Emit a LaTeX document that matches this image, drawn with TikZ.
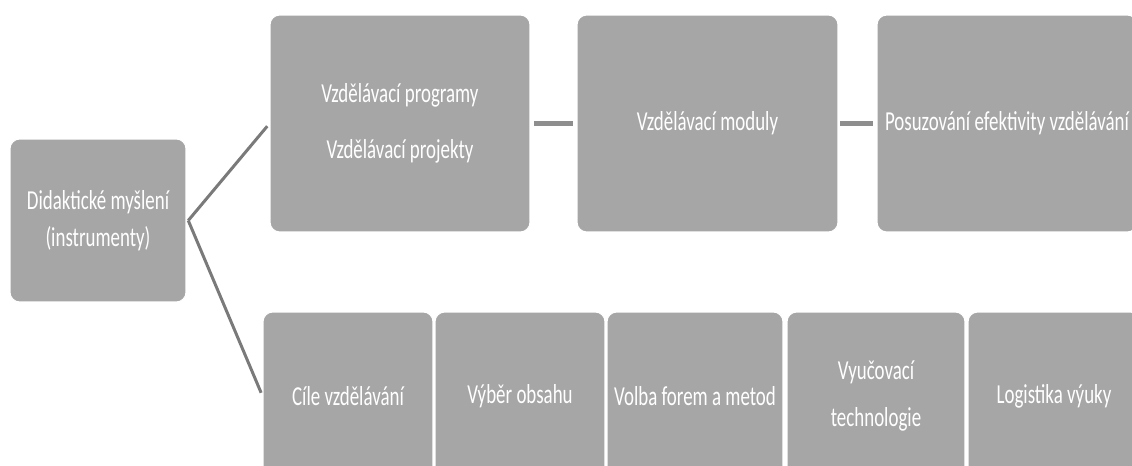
\documentclass[tikz,border=0pt]{standalone}
\usepackage{fontspec}
\setmainfont{Carlito}[FakeStretch=0.69]
\begin{document}
\begin{tikzpicture}[x=0.02cm,y=-0.02cm,
  box/.style={fill=boxgray, draw=white, line width=0.6pt, rounded corners=5.5pt, inner sep=0pt,
    text=white, font=\fontsize{15.6}{21}\selectfont, align=center},
  fork/.style={draw=forkgray, line width=1.7pt},
  link/.style={draw=linkgray, line width=2.8pt}]
\definecolor{boxgray}{HTML}{A6A6A6}
\definecolor{forkgray}{HTML}{7A7A7A}
\definecolor{linkgray}{HTML}{8E8E8E}
\useasboundingbox[fill=white] (0,0) rectangle (1132,466);
% left
\node[box, minimum width=3.52cm, minimum height=3.26cm] (L) at (98,220.5)
  {Didaktické myšlení\\(instrumenty)};
% top row
\node[box, minimum width=5.2cm, minimum height=4.34cm,
  font=\fontsize{15.6}{31.7}\selectfont] (T1) at (400,123.5)
  {Vzdělávací programy\\Vzdělávací projekty};
\node[box, minimum width=5.22cm, minimum height=4.34cm] (T2) at (707.5,123.5)
  {Vzdělávací moduly};
\node[box, minimum width=5.2cm, minimum height=4.34cm] (T3) at (1007,123.5)
  {Posuzování efektivity vzdělávání};
% bottom row
\node[box, minimum width=3.4cm, minimum height=3.36cm] (B1) at (348,396) {Cíle vzdělávání};
\node[box, minimum width=3.4cm, minimum height=3.36cm] (B2) at (520,396) {Výběr obsahu};
\node[box, minimum width=3.52cm, minimum height=3.36cm] (B3) at (695,396) {Volba forem a metod};
\node[box, minimum width=3.56cm, minimum height=3.36cm,
  font=\fontsize{15.6}{26.6}\selectfont] (B4) at (876,396) {Vyučovací\\technologie};
\node[box, minimum width=3.44cm, minimum height=3.36cm] (B5) at (1054,396) {Logistika výuky};
% connectors
\coordinate (v) at ([xshift=1pt]L.east);
\draw[fork, shorten >=2pt] (v) -- (T1.west);
\draw[fork, shorten >=2pt] (v) -- (B1.west);
\draw[link, shorten <=2pt, shorten >=2pt] (T1.east) -- (T2.west);
\draw[link, shorten <=1pt, shorten >=2pt] (T2.east) -- (T3.west);
\end{tikzpicture}
\end{document}
